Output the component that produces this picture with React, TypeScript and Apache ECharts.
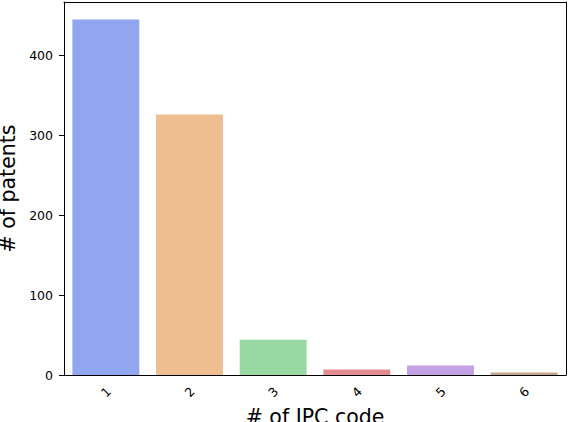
import React, { useEffect, useRef } from "react";
import * as echarts from "echarts";

const categories = ["1", "2", "3", "4", "5", "6"];
const patentCounts = [445, 326, 44, 7, 12, 3];
const barColors = ["#90a7ef", "#efbe90", "#98d9a3", "#e08c90", "#c4a0e5", "#c5a58a"];
const yTicks = [0, 100, 200, 300, 400];

export default function App() {
  const ref = useRef<HTMLDivElement>(null);
  useEffect(() => {
    document.body.style.margin = "0";
    if (!ref.current) return;
    const chart = echarts.init(ref.current, undefined, { renderer: "svg" });
    const font = "DejaVu Sans";
    const frameAxis = {
      show: true,
      axisLine: { show: true, onZero: false, lineStyle: { color: "#000", width: 1 } },
      axisTick: { show: false },
      axisLabel: { show: false },
      splitLine: { show: false },
    };
    chart.setOption({
      animation: false,
      grid: {
        left: 64,
        right: 2,
        top: 2,
        bottom: 47,
        containLabel: false,
        outerBoundsMode: "none",
      },
      xAxis: [
        {
          type: "category",
          data: categories,
          name: "# of IPC code",
          nameLocation: "middle",
          nameGap: 28,
          nameTextStyle: { fontFamily: font, fontSize: 20.5, color: "#000" },
          axisLine: { lineStyle: { color: "#000", width: 1 } },
          axisTick: { alignWithLabel: true, length: 5, lineStyle: { color: "#000" } },
          axisLabel: {
            rotate: 45,
            fontFamily: font,
            fontSize: 12.5,
            color: "#000",
            margin: 17,
            align: "center",
            verticalAlign: "middle",
          },
        },
        { type: "category", data: categories, position: "top", ...frameAxis },
      ],
      yAxis: [
        {
          type: "value",
          min: 0,
          max: 467,
          interval: 100,
          name: "# of patents",
          nameLocation: "middle",
          nameGap: 46,
          nameTextStyle: { fontFamily: font, fontSize: 20.5, color: "#000" },
          splitLine: { show: false },
          axisLine: { show: true, lineStyle: { color: "#000", width: 1 } },
          axisTick: { show: true, length: 5, lineStyle: { color: "#000" }, customValues: yTicks },
          axisLabel: {
            fontFamily: font,
            fontSize: 12.5,
            color: "#000",
            margin: 11,
            customValues: yTicks,
          },
        },
        { type: "value", min: 0, max: 467, position: "right", ...frameAxis },
      ],
      series: [
        {
          type: "bar",
          barCategoryGap: "20%",
          data: patentCounts.map((v, i) => ({ value: v, itemStyle: { color: barColors[i] } })),
        },
      ],
    });
    return () => chart.dispose();
  }, []);
  return <div ref={ref} style={{ width: 568, height: 422 }} />;
}
